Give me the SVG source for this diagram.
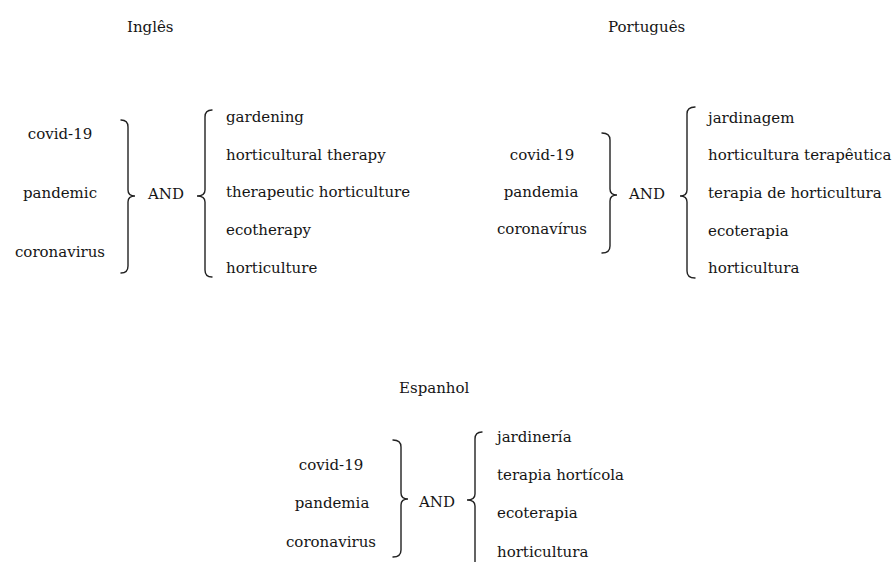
<svg xmlns="http://www.w3.org/2000/svg" width="896" height="562" viewBox="0 0 896 562">
<style>
text{font-family:"DejaVu Serif","Liberation Serif",serif;font-size:15px;fill:#151515}
.c{text-anchor:middle}
.br{fill:none;stroke:#222;stroke-width:1.4;stroke-linecap:round}
</style>
<rect width="896" height="562" fill="#fff"/>
<g id="en">
<text x="127" y="32">Inglês</text>
<text class="c" x="60" y="139">covid-19</text>
<text class="c" x="60" y="198">pandemic</text>
<text class="c" x="60" y="257">coronavirus</text>
<text x="148" y="199">AND</text>
<text x="226" y="122">gardening</text>
<text x="226" y="160">horticultural therapy</text>
<text x="226" y="197">therapeutic horticulture</text>
<text x="226" y="235">ecotherapy</text>
<text x="226" y="273">horticulture</text>
</g>
<g id="pt">
<text x="608" y="32">Português</text>
<text class="c" x="542" y="160">covid-19</text>
<text class="c" x="541" y="197">pandemia</text>
<text class="c" x="542" y="234">coronavírus</text>
<text x="629" y="199">AND</text>
<text x="708" y="123">jardinagem</text>
<text x="708" y="160">horticultura terapêutica</text>
<text x="708" y="198">terapia de horticultura</text>
<text x="708" y="236">ecoterapia</text>
<text x="708" y="273">horticultura</text>
</g>
<g id="es">
<text x="399" y="393">Espanhol</text>
<text class="c" x="331" y="470">covid-19</text>
<text class="c" x="332" y="508">pandemia</text>
<text class="c" x="331" y="547">coronavirus</text>
<text x="419" y="507">AND</text>
<text x="497" y="442">jardinería</text>
<text x="497" y="480">terapia hortícola</text>
<text x="497" y="518">ecoterapia</text>
<text x="497" y="557">horticultura</text>
</g>
<g id="braces">
<path class="br" d="M121 120 Q128 120 128 127 L128 190 Q128 196 135 196 Q128 196 128 202 L128 266 Q128 273 121 273"/>
<path class="br" d="M212 110 Q205 110 205 117 L205 190 Q205 196 197 196 Q205 196 205 202 L205 270 Q205 277 212 277"/>
<path class="br" d="M602 133 Q610 133 610 140 L610 189 Q610 195 617 195 Q610 195 610 201 L610 246 Q610 253 602 253"/>
<path class="br" d="M695 107 Q687 107 687 114 L687 190 Q687 196 680 196 Q687 196 687 202 L687 271 Q687 278 695 278"/>
<path class="br" d="M393 440 Q401 440 401 447 L401 493 Q401 499 408 499 Q401 499 401 505 L401 550 Q401 557 393 557"/>
<path class="br" d="M482 432 Q475 432 475 439 L475 494 Q475 500 467 500 Q475 500 475 506 L475 570"/>
</g>
</svg>
